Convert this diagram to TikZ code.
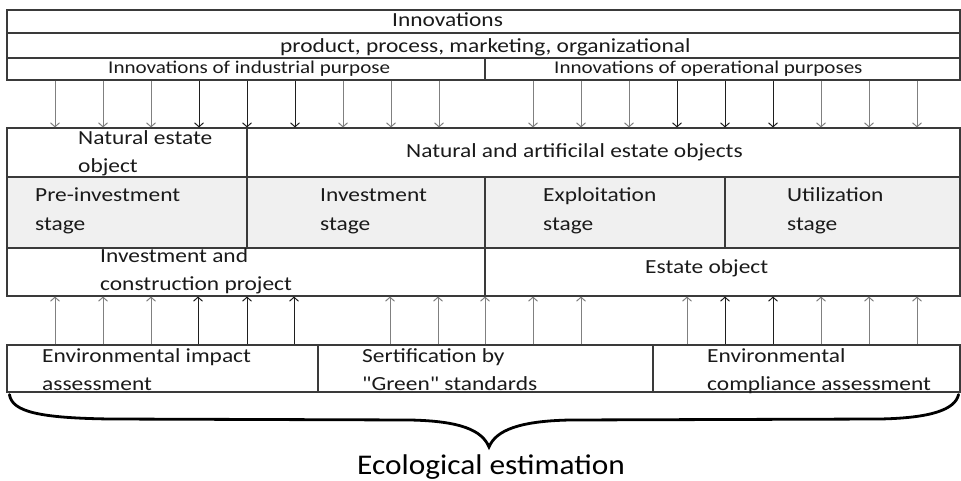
\documentclass[tikz,border=0pt]{standalone}
\usepackage{fontspec}
\setmainfont{Carlito}[FakeStretch=1.17, Ligatures=TeXOff]
\newfontfamily\bigfont{Carlito}[FakeStretch=1.1]
\usetikzlibrary{arrows.meta,fit}
\definecolor{linec}{HTML}{3A3A3A}
\definecolor{stagefill}{HTML}{F0F0F0}
\definecolor{txtc}{HTML}{1A1A1A}
\tikzset{
  cellbox/.style={draw=linec, line width=1.1pt, inner sep=0pt},
  stagebox/.style={cellbox, fill=stagefill},
  txt/.style={anchor=base west, inner sep=0pt, text=txtc, font=\fontsize{20}{24}\selectfont},
  smalltxt/.style={txt, font=\fontsize{18}{22}\selectfont},
  bigtxt/.style={anchor=base, inner sep=0pt, text=black, font=\bigfont\fontsize{28.5}{32}\selectfont},
  arrbase/.style={-{Straight Barb[length=4pt,width=9pt]}, line width=1pt},
  ag/.style={arrbase, draw=black!50},
  ak/.style={arrbase, draw=black!88},
  bracestyle/.style={draw=black, line width=2.8pt, line cap=round}
}
\begin{document}
\begin{tikzpicture}[x=1pt,y=-1pt]
\useasboundingbox (0,0) rectangle (961,481);
% cells
\node[cellbox, fit={(7,10) (960,33)}] (c1) {};
\node[cellbox, fit={(7,33) (960,58)}] (c2) {};
\node[cellbox, fit={(7,58) (485,80)}] (c3a) {};
\node[cellbox, fit={(485,58) (960,80)}] (c3b) {};
\node[cellbox, fit={(7,128) (247,177)}] (n1) {};
\node[cellbox, fit={(247,128) (960,177)}] (n2) {};
\node[stagebox, fit={(7,177) (247,248)}] (s1) {};
\node[stagebox, fit={(247,177) (485,248)}] (s2) {};
\node[stagebox, fit={(485,177) (725,248)}] (s3) {};
\node[stagebox, fit={(725,177) (960,248)}] (s4) {};
\node[cellbox, fit={(7,248) (485,296)}] (p1) {};
\node[cellbox, fit={(485,248) (960,296)}] (p2) {};
\node[cellbox, fit={(7,345) (318,392)}] (b1) {};
\node[cellbox, fit={(318,345) (653,392)}] (b2) {};
\node[cellbox, fit={(653,345) (960,392)}] (b3) {};
% texts
\node[txt] (tinn) at (392,27) {Innovations};
\node[txt] (tppm) at (280,53) {product, process, marketing, organizational};
\node[smalltxt] (tind) at (108,74) {Innovations of industrial purpose};
\node[smalltxt] (topr) at (554,74) {Innovations of operational purposes};
\node[txt] (nat1) at (78,145) {Natural estate};
\node[txt] (nat2) at (78,173) {object};
\node[txt] (nart) at (406,158) {Natural and artificilal estate objects};
\node[txt] (pre1) at (35,202) {Pre-investment};
\node[txt] (pre2) at (35,230) {stage};
\node[txt] (inv1) at (320,202) {Investment};
\node[txt] (inv2) at (320,230) {stage};
\node[txt] (exp1) at (543,202) {Exploitation};
\node[txt] (exp2) at (543,230) {stage};
\node[txt] (uti1) at (787,202) {Utilization};
\node[txt] (uti2) at (787,230) {stage};
\node[txt] (icp1) at (100,262) {Investment and};
\node[txt] (icp2) at (100,290) {construction project};
\node[txt] (est) at (645,273) {Estate object};
\node[txt] (env1) at (42,362) {Environmental impact};
\node[txt] (env2) at (42,390) {assessment};
\node[txt] (ser1) at (362,362) {Sertification by};
\node[txt] (ser2) at (362,390) {"Green" standards};
\node[txt] (ecm1) at (707,362) {Environmental};
\node[txt] (ecm2) at (707,390) {compliance assessment};
\node[bigtxt] (eco) at (491,474) {Ecological estimation};
% down arrows
\foreach \x/\s in {55/ag,103/ag,151/ag,199/ak,247/ak,295/ak,343/ag,391/ag,439/ag,
                   533/ag,581/ag,629/ag,677/ak,725/ak,773/ak,821/ag,869/ag,917/ag}{
  \coordinate (dx) at (\x,0);
  \draw[\s] (c3a.south -| dx) -- (n1.north -| dx);
}
% up arrows
\foreach \x/\s in {55/ag,103/ag,151/ag,198/ak,247/ak,294/ak,390/ag,438/ag,485/ag,
                   533/ag,581/ag,687/ag,725/ak,773/ak,821/ag,869/ag,917/ag}{
  \coordinate (ux) at (\x,0);
  \draw[\s] (b1.north -| ux) -- (p1.south -| ux);
}
% brace
\draw[bracestyle] ([shift={(3,2)}]b1.south west) .. controls (12,412) and (40,418) .. (110,419)
  -- (410,420) .. controls (460,421) and (482,430) .. (489,447)
  .. controls (496,430) and (520,421) .. (570,420) -- (880,419)
  .. controls (930,418) and (955,410) .. ([shift={(-2,2)}]b3.south east);
\end{tikzpicture}
\end{document}
